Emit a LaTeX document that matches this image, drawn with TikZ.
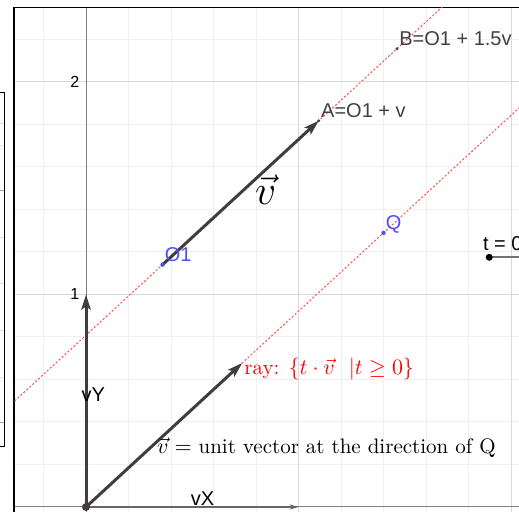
\documentclass[tikz,border=0pt]{standalone}
\usepackage{amsmath}
\usepackage{amssymb}
\usepackage{fontspec}
\setsansfont{Liberation Sans}
\usepackage{tikz}
\usetikzlibrary{arrows.meta, calc}
\definecolor{ggblue}{RGB}{77,77,255}
\definecolor{vecgray}{RGB}{66,60,60}
\definecolor{labelgray}{RGB}{64,64,64}

\begin{document}
\begin{tikzpicture}[
    x = 106.25pt, y = 106.25pt,
    every node/.style = {inner sep=0pt},
    minorgrid/.style  = {black!6, line width=0.5pt},
    majorgrid/.style  = {black!15, line width=0.5pt},
    axisline/.style   = {black!50, line width=0.5pt},
    frameline/.style  = {black, line width=0.8pt},
    vec/.style        = {vecgray, line width=1.5pt,
                         -{Stealth[length=7.5pt, width=4.6pt, inset=1.5pt]}},
    thinvec/.style    = {black!60, line width=0.6pt,
                         -{Stealth[length=4.5pt, width=2.6pt]}},
    dotline/.style    = {red!70, line width=0.5pt, dash pattern=on 1pt off 1pt},
    ptlabel/.style    = {font=\sffamily\fontsize{10}{12}\selectfont,
                         anchor=base west, xshift=1pt, yshift=1.6pt},
    axisnum/.style    = {font=\sffamily\fontsize{8}{10}\selectfont, anchor=east},
    veclabel/.style   = {font=\sffamily\fontsize{10}{12}\selectfont, text=black},
    mathtext/.style   = {font=\fontsize{10.5}{13}\selectfont, anchor=base west},
]

\useasboundingbox (-0.40471,-0.02353) rectangle (2.03765,2.38588);

% Grid of the graphics view
\begin{scope}
  \clip (-0.3388,-0.0235) rectangle (2.0377,2.3506);
  \foreach \k in {-1,...,10}
    \draw[minorgrid] ({0.2*\k},-0.1) -- ({0.2*\k},2.4);
  \foreach \k in {0,...,11}
    \draw[minorgrid] (-0.4,{0.2*\k}) -- (2.1,{0.2*\k});
  \foreach \k in {1,2}{
    \draw[majorgrid] (\k,-0.1) -- (\k,2.4);
    \draw[majorgrid] (-0.4,\k) -- (2.1,\k);
  }
  \draw[axisline] (0,-0.1) -- (0,2.4);
  \draw[axisline] (-0.4,0) -- (2.1,0);
\end{scope}

% View frame and side panel
\draw[frameline] (-0.3388,-0.1) -- (-0.3388,2.3506) -- (2.1,2.3506);
\foreach \py in {1.807,1.6988,1.2659,1.0494,0.8329,0.6071}
  \draw[black!12, line width=0.5pt] (-0.42,\py) -- (-0.3845,\py);
\foreach \py in {1.4871,0.3953}
  \draw[black!35, line width=0.5pt] (-0.42,\py) -- (-0.3845,\py);
\draw[black, line width=0.6pt] (-0.42,1.9496) -| (-0.3845,0.2838) -- (-0.42,0.2838);

% Points
\coordinate (O)  at (0,0);
\coordinate (E1) at (1,0);
\coordinate (E2) at (0,1);
\coordinate (U)  at (0.7354,0.6776);
\coordinate (O1) at (0.36,1.14);
\coordinate (Q)  at (1.40,1.29);
\coordinate (A)  at ($(O1)+(U)$);
\coordinate (B)  at ($(O1)!1.5!(A)$);
\coordinate (S)  at (1.8974,1.1751);

% Dotted lines
\begin{scope}
  \clip (-0.3388,-0.0235) rectangle (2.0377,2.3506);
  \draw[dotline] ($(O1)!-2!(A)$) -- ($(O1)!3!(A)$);
  \draw[dotline] (O) -- ($(O)!4!(U)$);
\end{scope}

% Vectors
\draw[thinvec] (O) -- (E1);
\draw[vec] (O) -- (E2);
\draw[vec] (O) -- (U);
\draw[vec] (O1) -- (A);

% Slider
\draw[black!55, line width=1pt] (S) -- ++(0.5,0);
\fill[black] (S) circle (1.75pt);

\fill[vecgray] (O) circle (2pt);
\fill[ggblue] (O1) circle (1.1pt);
\fill[ggblue] (Q) circle (1.1pt);
\fill[labelgray] (A) circle (0.8pt);
\fill[labelgray] (B) circle (0.8pt);

% Labels
\node[ptlabel, text=ggblue] (O1lab) at (O1) {O1};
\node[ptlabel, text=ggblue] (Qlab) at (Q) {Q};
\node[ptlabel, text=labelgray] (Alab) at (A) {A=O1 + v};
\node[ptlabel, text=labelgray] (Blab) at (B) {B=O1 + 1.5v};
\node[ptlabel, text=black, xshift=-1pt, yshift=-1.6pt] (tlab) at (1.8668,1.2061) {t = 0};

\node[axisnum] (ytwo) at (-0.03,2) {2};
\node[axisnum] (yone) at (-0.03,1) {1};

\node[veclabel] (vYlab) at (0.0344,0.527) {vY};
\node[veclabel] (vXlab) at (0.548,0.041) {vX};

\node[font=\fontsize{21}{25}\selectfont] (vlab) at (0.845,1.494) {$\vec{v}$};

\node[mathtext, text=red] (raylab) at (0.7435,0.6212)
  {ray: $\{t\cdot\vec{v}\ \ |t\geq 0\}$};
\node[mathtext] (unitlab) at (0.3327,0.2527)
  {$\vec{v} =$ unit vector at the direction of Q};

\end{tikzpicture}
\end{document}
